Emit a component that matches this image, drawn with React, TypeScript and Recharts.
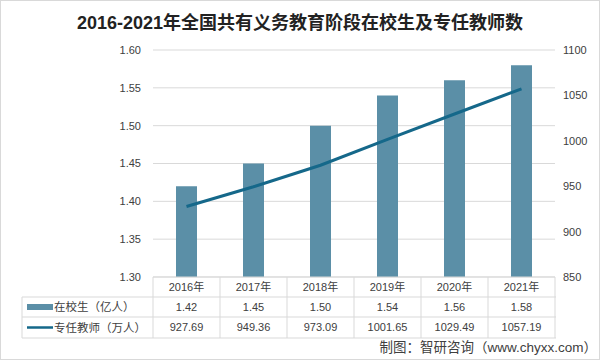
import { Bar, CartesianGrid, ComposedChart, Line, XAxis, YAxis } from 'recharts';

const years = ['2016年', '2017年', '2018年', '2019年', '2020年', '2021年'];
const students = [1.42, 1.45, 1.5, 1.54, 1.56, 1.58];
const teachers = [927.69, 949.36, 973.09, 1001.65, 1029.49, 1057.19];

const leftTicks = [1.3, 1.35, 1.4, 1.45, 1.5, 1.55, 1.6];
const rightTicks = [850, 900, 950, 1000, 1050, 1100];

const studentLabel = '在校生（亿人）';
const teacherLabel = '专任教师（万人）';

const data = years.map((year, i) => ({ year, students: students[i], teachers: teachers[i] }));

const FONT = '"Liberation Sans", "Noto Sans CJK SC", sans-serif';
const BAR_COLOR = '#5b8fa7';
const LINE_COLOR = '#15688a';
const GRID = '#d9d9d9';
const TEXT = '#404040';

const PLOT_LEFT = 153;
const PLOT_RIGHT = 555;
const AXIS_Y = 277;
const ROW_LINES = [296, 316, 337];
const COL_W = (PLOT_RIGHT - PLOT_LEFT) / years.length;

// eslint-disable-next-line @typescript-eslint/no-explicit-any
function TableTick({ x, y, index }: any) {
  const half = COL_W / 2;
  const last = index === years.length - 1;
  return (
    <g>
      <line x1={x - half} x2={x - half} y1={y} y2={ROW_LINES[2]} stroke={GRID} />
      {last && <line x1={x + half} x2={x + half} y1={y} y2={ROW_LINES[2]} stroke={GRID} />}
      <g fontFamily={FONT} fontSize={11} fill={TEXT} textAnchor="middle">
        <text x={x} y={(y + ROW_LINES[0]) / 2} dy="0.35em">{years[index]}</text>
        <text x={x} y={(ROW_LINES[0] + ROW_LINES[1]) / 2} dy="0.35em">{students[index].toFixed(2)}</text>
        <text x={x} y={(ROW_LINES[1] + ROW_LINES[2]) / 2} dy="0.35em">{teachers[index].toFixed(2)}</text>
      </g>
    </g>
  );
}

export default function App() {
  const row2 = (ROW_LINES[0] + ROW_LINES[1]) / 2;
  const row3 = (ROW_LINES[1] + ROW_LINES[2]) / 2;
  return (
    <div
      style={{
        position: 'absolute',
        left: 0,
        top: 0,
        width: 600,
        height: 360,
        background: '#fff',
        boxSizing: 'border-box',
        border: '1px solid #d9d9d9',
      }}
    >
      <ComposedChart
        width={598}
        height={358}
        data={data}
        margin={{ top: 49, right: 0, bottom: 0, left: 0 }}
        style={{ position: 'absolute', left: 0, top: 0 }}
      >
        <CartesianGrid yAxisId="left" vertical={false} stroke={GRID} />
        <XAxis
          dataKey="year"
          height={358 - AXIS_Y + 1}
          axisLine={{ stroke: GRID }}
          tickLine={false}
          tickSize={0}
          tickMargin={0}
          interval={0}
          tick={<TableTick />}
        />
        <YAxis
          yAxisId="left"
          width={PLOT_LEFT - 1}
          domain={[1.3, 1.6]}
          ticks={leftTicks}
          tickFormatter={(v: number) => v.toFixed(2)}
          axisLine={false}
          tickLine={false}
          tickSize={0}
          tickMargin={12}
          tick={{ fontSize: 11, fill: TEXT, fontFamily: FONT }}
        />
        <YAxis
          yAxisId="right"
          orientation="right"
          width={598 - PLOT_RIGHT + 1}
          domain={[850, 1100]}
          ticks={rightTicks}
          axisLine={false}
          tickLine={false}
          tickSize={0}
          tickMargin={8}
          tick={{ fontSize: 11, fill: TEXT, fontFamily: FONT }}
        />
        <Bar yAxisId="left" dataKey="students" fill={BAR_COLOR} barSize={21} isAnimationActive={false} />
        <Line
          yAxisId="right"
          dataKey="teachers"
          stroke={LINE_COLOR}
          strokeWidth={3}
          dot={false}
          isAnimationActive={false}
        />
      </ComposedChart>
      <svg width={598} height={358} style={{ position: 'absolute', left: 0, top: 0, pointerEvents: 'none' }}>
        {ROW_LINES.map((ly) => (
          <line key={ly} x1={21} x2={PLOT_RIGHT} y1={ly} y2={ly} stroke={GRID} />
        ))}
        <line x1={21} x2={21} y1={ROW_LINES[0]} y2={ROW_LINES[2]} stroke={GRID} />
        <rect x={26} y={row2 - 3} width={26} height={6} fill={BAR_COLOR} />
        <line x1={26} x2={52} y1={row3} y2={row3} stroke={LINE_COLOR} strokeWidth={2.5} />
        <g fontFamily={FONT} fontSize={11.5} fill={TEXT}>
          <text x={53} y={row2} dy="0.35em">{studentLabel}</text>
          <text x={53} y={row3} dy="0.35em">{teacherLabel}</text>
        </g>
        <text
          x={299}
          y={22}
          dy="0.35em"
          textAnchor="middle"
          fontFamily={FONT}
          fontSize={18}
          fontWeight="bold"
          fill="#222"
        >
          2016-2021年全国共有义务教育阶段在校生及专任教师数
        </text>
        <text x={596} y={346} dy="0.35em" textAnchor="end" fontFamily={FONT} fontSize={13.5} fill={TEXT}>
          制图：智研咨询（www.chyxx.com）
        </text>
      </svg>
    </div>
  );
}
